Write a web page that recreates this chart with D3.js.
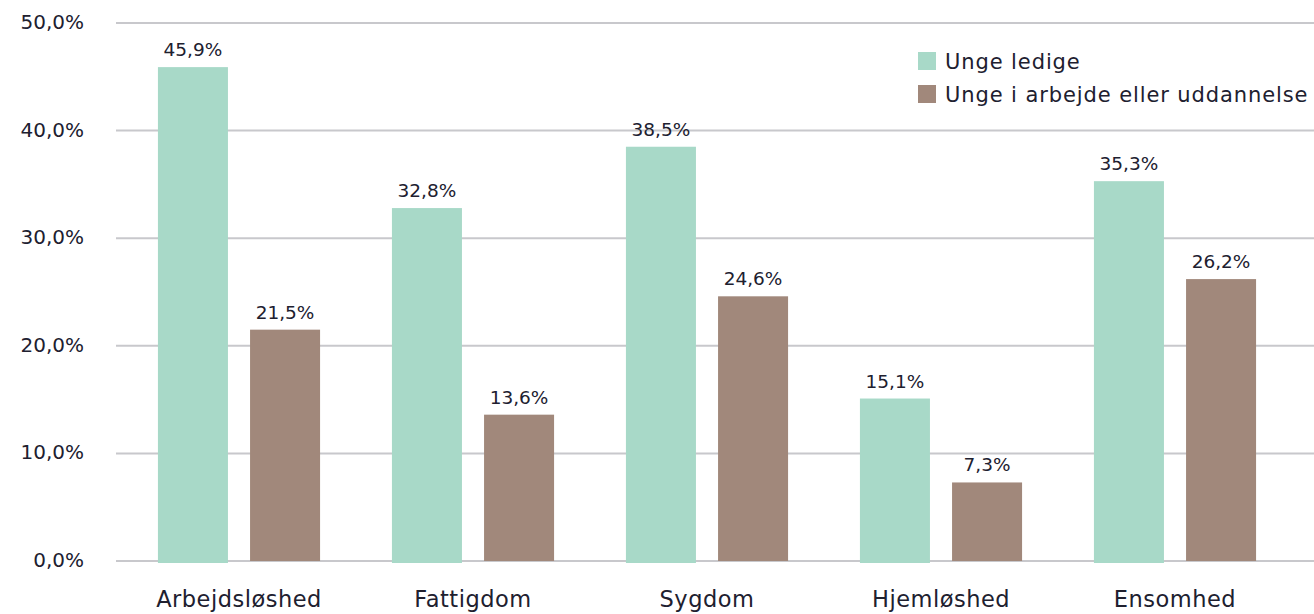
<!DOCTYPE html>
<html><head><meta charset="utf-8">
<script src="https://cdn.jsdelivr.net/npm/d3@7"></script>
<style>
body{margin:0;background:#fff;}
svg{display:block;font-family:"DejaVu Sans","Noto Sans",sans-serif;}
</style></head>
<body><svg id="c" width="1314" height="614"></svg>
<script>
const categories = ["Arbejdsløshed","Fattigdom","Sygdom","Hjemløshed","Ensomhed"];
const seriesNames = ["Unge ledige","Unge i arbejde eller uddannelse"];
const ungeLedige = [45.9, 32.8, 38.5, 15.1, 35.3];
const ungeIArbejde = [21.5, 13.6, 24.6, 7.3, 26.2];
const yTicks = [0,10,20,30,40,50];
const colors = ["#a8d9c8","#a1887b"];

const seriesValues = [ungeLedige, ungeIArbejde];
const locale = d3.formatLocale({decimal:",", thousands:".", grouping:[3], currency:["","kr"]});
const fmtTick = v => locale.format(".1f")(v) + "%";
const fmtVal = v => locale.format(".1f")(v) + "%";

const svg = d3.select("#c");
const textColor = "#20202f";

const y = d3.scaleLinear().domain([0,50]).range([561,23]);
const x0 = d3.scaleBand().domain(categories).range([122,1292]).padding(0);
const x1 = d3.scaleBand().domain(seriesNames).range([0,x0.bandwidth()]).paddingInner(0.24).paddingOuter(0.39);

// gridlines
svg.append("g").selectAll("line").data(yTicks).join("line")
  .attr("x1",116).attr("x2",1314)
  .attr("y1",d=>y(d)).attr("y2",d=>y(d))
  .attr("stroke","#c8c8cc").attr("stroke-width",2);

// y tick labels
svg.append("g").selectAll("text").data(yTicks).join("text")
  .attr("x",84).attr("y",d=>y(d)+6)
  .attr("text-anchor","end")
  .attr("font-size",20).attr("fill",textColor)
  .text(fmtTick);

// bars
const groups = svg.append("g").selectAll("g").data(categories).join("g")
  .attr("transform",c=>`translate(${x0(c)},0)`);
groups.each(function(c,ci){
  const g = d3.select(this);
  const data = seriesNames.map((s,si)=>({s,si,v:seriesValues[si][ci]}));
  g.selectAll("rect").data(data).join("rect")
    .attr("x",d=>x1(d.s)).attr("width",x1.bandwidth())
    .attr("y",d=>y(d.v)).attr("height",d=>y(0)-y(d.v)+(d.si===0?2:0))
    .attr("fill",d=>colors[d.si]);
  g.selectAll("text").data(data).join("text")
    .attr("x",d=>x1(d.s)+x1.bandwidth()/2)
    .attr("y",d=>y(d.v)-11)
    .attr("text-anchor","middle")
    .attr("font-size",18.5).attr("fill",textColor)
    .text(d=>fmtVal(d.v));
});

// category labels
svg.append("g").selectAll("text").data(categories).join("text")
  .attr("x",c=>x0(c)+x0.bandwidth()/2)
  .attr("y",607)
  .attr("text-anchor","middle")
  .attr("font-size",22.5).attr("letter-spacing",0.5).attr("fill",textColor)
  .text(c=>c);

// legend
const leg = svg.append("g").attr("transform","translate(918,52)");
const li = leg.selectAll("g").data(seriesNames).join("g")
  .attr("transform",(d,i)=>`translate(0,${i*33})`);
li.append("rect").attr("width",18).attr("height",18).attr("fill",(d,i)=>colors[i]);
li.append("text").attr("x",27).attr("y",17).attr("font-size",21).attr("letter-spacing",0.9).attr("fill",textColor).text(d=>d);
</script></body></html>
